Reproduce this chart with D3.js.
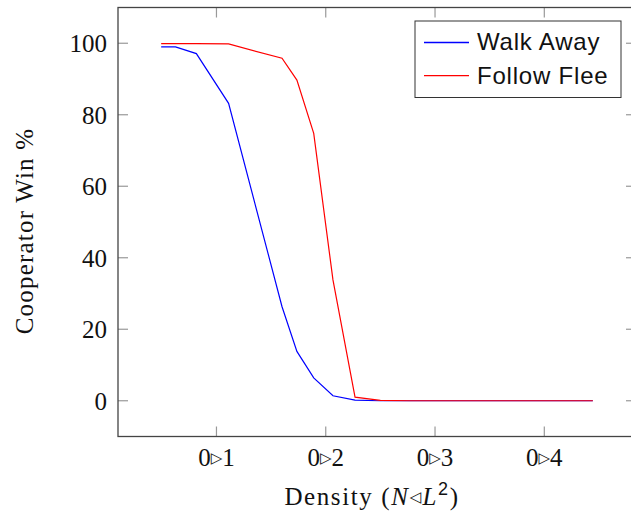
<!DOCTYPE html>
<html><head><meta charset="utf-8">
<script src="https://cdn.jsdelivr.net/npm/d3@7"></script>
<style>body{margin:0;background:#fff}svg{display:block}</style>
</head><body>
<script>
const density = [0.0494, 0.0625, 0.0816, 0.1111, 0.16, 0.1736, 0.189, 0.2066, 0.2268, 0.25, 0.277, 0.3086, 0.346, 0.3906, 0.4444];
const walkAway = [99, 99, 97.1, 83.2, 26.3, 13.8, 6.4, 1.4, 0.2, 0, 0, 0, 0, 0, 0];
const followFlee = [99.9, 99.9, 99.9, 99.8, 95.8, 89.7, 74.8, 33.8, 1.0, 0.1, 0, 0, 0, 0, 0];
const xTicks = [0.1, 0.2, 0.3, 0.4];
const xTickLabels = ["0", "1", "2", "3", "4"];
const yTicks = [0, 20, 40, 60, 80, 100];
const seriesNames = ["Walk Away", "Follow Flee"];
const seriesColors = ["#0000ff", "#ff0000"];

const W = 631, H = 514;
const L = 118, R = 636, T = 7.5, B = 436.5;
const svg = d3.select("body").append("svg").attr("width", W).attr("height", H);
const x = d3.scaleLinear().domain([0.0099, 0.4839]).range([L, R]);
const y = d3.scaleLinear().domain([-10, 110]).range([B, T]);
const serif = "'Liberation Serif', 'DejaVu Serif', serif";
const sans = "'Liberation Sans', Arial, sans-serif";

svg.append("clipPath").attr("id", "clip").append("rect")
  .attr("x", L).attr("y", T).attr("width", R - L).attr("height", B - T);

// ticks (inside, mirrored)
const tickLen = 10, tickCol = "#999";
const tk = svg.append("g").attr("stroke", tickCol).attr("stroke-width", 1.2);
xTicks.forEach(v => {
  tk.append("line").attr("x1", x(v)).attr("x2", x(v)).attr("y1", B).attr("y2", B - tickLen);
  tk.append("line").attr("x1", x(v)).attr("x2", x(v)).attr("y1", T).attr("y2", T + tickLen);
});
yTicks.forEach(v => {
  tk.append("line").attr("x1", L).attr("x2", L + tickLen).attr("y1", y(v)).attr("y2", y(v));
  tk.append("line").attr("x1", R).attr("x2", R - tickLen).attr("y1", y(v)).attr("y2", y(v));
});

// lines
const line = d3.line().x(d => x(d[0])).y(d => y(d[1]));
[walkAway, followFlee].forEach((s, i) => {
  svg.append("path").datum(density.map((d, j) => [d, s[j]]))
    .attr("d", line).attr("fill", "none").attr("stroke", seriesColors[i])
    .attr("stroke-width", 1.2).attr("clip-path", "url(#clip)");
});

// frame
svg.append("rect").attr("x", L).attr("y", T).attr("width", R - L).attr("height", B - T)
  .attr("fill", "none").attr("stroke", "#444").attr("stroke-width", 1.3);

// y tick labels
yTicks.forEach(v => {
  svg.append("text").attr("x", L - 11).attr("y", y(v) + 9).attr("text-anchor", "end")
    .attr("font-family", serif).attr("font-size", 25).attr("fill", "#111").text(v);
});
// x tick labels
xTicks.forEach((v, i) => {
  const t = svg.append("text").attr("x", x(v)).attr("y", 466).attr("text-anchor", "middle")
    .attr("font-family", serif).attr("font-size", 25).attr("fill", "#111");
  t.append("tspan").text(xTickLabels[0]);
  t.append("tspan").attr("font-family", "'DejaVu Sans'").attr("font-size", 15).attr("dy", -3).text("\u25B7");
  t.append("tspan").attr("dy", 3).text(xTickLabels[i + 1]);
});

// x axis label
const xl = svg.append("text").attr("x", 372).attr("y", 505).attr("text-anchor", "middle")
  .attr("font-family", serif).attr("font-size", 25).attr("letter-spacing", 1.6).attr("fill", "#111");
xl.append("tspan").text("Density (");
xl.append("tspan").attr("font-style", "italic").text("N");
xl.append("tspan").attr("font-family", "'DejaVu Sans'").attr("font-size", 15).attr("dy", -3).text("\u25C1");
xl.append("tspan").attr("font-style", "italic").attr("dy", 3).text("L");
xl.append("tspan").attr("font-family", sans).attr("font-size", 18).attr("dy", -10).text("2");
xl.append("tspan").attr("dy", 10).text(")");

// y axis label
svg.append("text").attr("transform", "translate(33,231) rotate(-90)").attr("text-anchor", "middle")
  .attr("font-family", serif).attr("font-size", 25).attr("letter-spacing", 1.2).attr("fill", "#111").text("Cooperator Win %");

// legend
const lg = svg.append("g");
lg.append("rect").attr("x", 415).attr("y", 21).attr("width", 206).attr("height", 76.5)
  .attr("fill", "#fff").attr("stroke", "#333").attr("stroke-width", 1);
seriesNames.forEach((n, i) => {
  const cy = 42.5 + i * 33.2;
  lg.append("line").attr("x1", 424).attr("x2", 469).attr("y1", cy).attr("y2", cy)
    .attr("stroke", seriesColors[i]).attr("stroke-width", 1.3);
  lg.append("text").attr("x", 477).attr("y", cy + 7 + i * 1.5).attr("font-family", sans)
    .attr("font-size", 24).attr("letter-spacing", 0.8).attr("fill", "#111").text(n);
});
</script>
</body></html>
